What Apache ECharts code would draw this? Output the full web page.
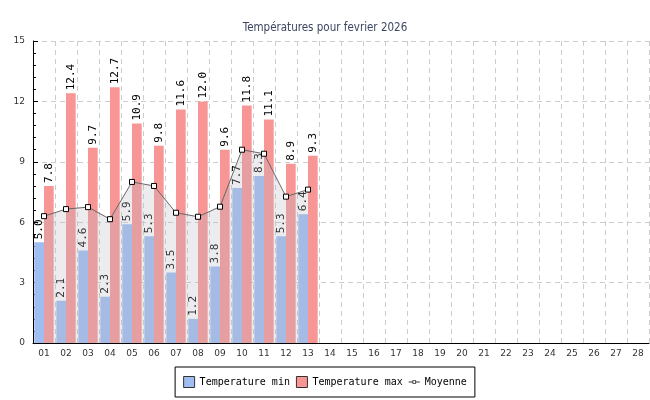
<!DOCTYPE html>
<html><head><meta charset="utf-8">
<script src="https://cdn.jsdelivr.net/npm/echarts@6/dist/echarts.min.js"></script>
<style>html,body{margin:0;padding:0;background:#fff}#c{width:650px;height:400px}</style>
</head><body><div id="c"></div>
<script>
var days = ['01','02','03','04','05','06','07','08','09','10','11','12','13','14','15','16','17','18','19','20','21','22','23','24','25','26','27','28'];
var tempMin = [5.0, 2.1, 4.6, 2.3, 5.9, 5.3, 3.5, 1.2, 3.8, 7.7, 8.3, 5.3, 6.4];
var tempMax = [7.8, 12.4, 9.7, 12.7, 10.9, 9.8, 11.6, 12.0, 9.6, 11.8, 11.1, 8.9, 9.3];
var moyenne = [6.3, 6.65, 6.75, 6.15, 8.0, 7.8, 6.47, 6.27, 6.77, 9.6, 9.4, 7.27, 7.62];
var yTicks = [0, 3, 6, 9, 12, 15];

var mono = 'DejaVu Sans Mono';
var chart = echarts.init(document.getElementById('c'), null, {renderer: 'canvas'});
var barLabel = {
  show: true, position: 'top', rotate: 90, align: 'left', verticalAlign: 'middle',
  distance: 3, color: '#000', fontFamily: mono, fontSize: 11,
  formatter: function (p) { return p.value.toFixed(1); }
};
var meanIcon = 'path://M0,5.5 L4,5.5 L4,6.5 L0,6.5 Z M8,5.5 L12,5.5 L12,6.5 L8,6.5 Z M4,4 L8,4 L8,8 L4,8 Z M5,5 L5,7 L7,7 L7,5 Z';
chart.setOption({
  animation: false,
  title: {
    text: 'Températures pour fevrier 2026', left: 'center', top: 17,
    textStyle: {fontFamily: 'DejaVu Sans Condensed', fontWeight: 'normal', fontSize: 11.5, color: '#3d4661'}
  },
  legend: {
    bottom: 3, left: 'center', orient: 'horizontal',
    borderColor: '#000', borderWidth: 1, padding: [9, 8],
    itemWidth: 11, itemHeight: 11, itemGap: 6, symbolKeepAspect: true,
    textStyle: {fontFamily: mono, fontSize: 10, color: '#000'},
    data: [
      {name: 'Temperature min', icon: 'rect', itemStyle: {borderColor: '#333', borderWidth: 1}},
      {name: 'Temperature max', icon: 'rect', itemStyle: {borderColor: '#333', borderWidth: 1}},
      {name: 'Moyenne', icon: meanIcon, itemStyle: {color: '#333', borderWidth: 0}}
    ]
  },
  grid: {left: 33, right: 1, top: 41, bottom: 57, containLabel: false},
  xAxis: {
    type: 'category', data: days, boundaryGap: true,
    axisLine: {lineStyle: {color: '#000', width: 1}},
    axisTick: {inside: true, length: 5, lineStyle: {color: '#000'}},
    axisLabel: {fontFamily: 'DejaVu Sans', fontSize: 9, color: '#333', interval: 0, margin: 6},
    splitLine: {show: true, interval: 0, lineStyle: {color: '#ccc', type: [5, 4]}}
  },
  yAxis: {
    type: 'value', min: yTicks[0], max: yTicks[yTicks.length - 1], interval: 3,
    axisLine: {show: true, lineStyle: {color: '#000', width: 1}},
    axisTick: {show: true, inside: true, length: 5, lineStyle: {color: '#000'}},
    minorTick: {show: true, splitNumber: 5, length: 3, lineStyle: {color: '#000'}},
    axisLabel: {fontFamily: 'DejaVu Sans', fontSize: 9, color: '#333', margin: 8},
    splitLine: {show: true, lineStyle: {color: '#ccc', type: [5, 4]}}
  },
  series: [
    {name: 'Temperature min', type: 'bar', data: tempMin, barGap: '0%', barCategoryGap: '12%',
     itemStyle: {color: '#9fbdf0'}, label: barLabel, z: 2},
    {name: 'Temperature max', type: 'bar', data: tempMax, barGap: '0%', barCategoryGap: '12%',
     itemStyle: {color: '#f89595'}, label: barLabel, z: 2},
    {name: 'Moyenne', type: 'line', data: moyenne, symbol: 'rect', symbolSize: 5, showAllSymbol: true,
     lineStyle: {color: '#666', width: 1},
     itemStyle: {color: '#fff', borderColor: '#000', borderWidth: 1},
     areaStyle: {color: 'rgba(185,185,192,0.38)'}, z: 3}
  ]
});
</script></body></html>
